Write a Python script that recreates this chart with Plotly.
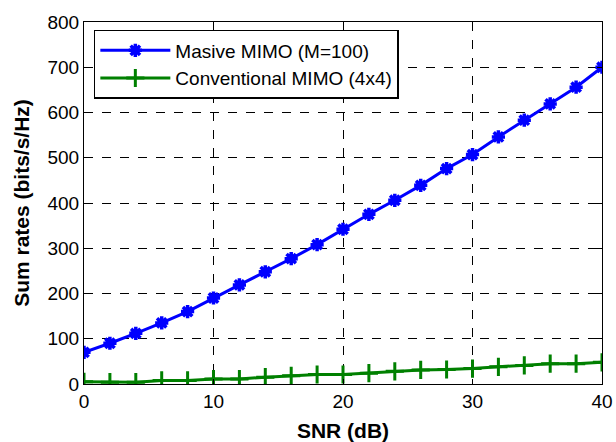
import plotly.graph_objects as go

snr = [0, 2, 4, 6, 8, 10, 12, 14, 16, 18, 20, 22, 24, 26, 28, 30, 32, 34, 36, 38, 40]
massive = [70, 90, 112, 135, 160, 190, 219, 248, 277, 308, 342, 375, 406, 439, 476, 507, 546, 583, 619, 656, 700]
conventional = [5, 4, 4, 8, 8, 11, 11, 15, 18, 21, 21, 24, 28, 31, 32, 34, 38, 41, 45, 45, 48]

FONT = "Liberation Sans, Arial"

fig = go.Figure()
fig.add_trace(go.Scatter(
    x=snr, y=massive, mode="lines+markers", name="Masive MIMO (M=100)",
    line=dict(color="#0000ff", width=3),
    marker=dict(symbol="asterisk-open", size=11, color="#0000ff",
                line=dict(color="#0000ff", width=3.5)),
))
fig.add_trace(go.Scatter(
    x=snr, y=conventional, mode="lines+markers", name="Conventional MIMO (4x4)",
    line=dict(color="#008000", width=3),
    marker=dict(symbol="cross-thin-open", size=13, color="#008000",
                line=dict(color="#008000", width=3)),
))

axis_common = dict(
    showline=True, linecolor="black", linewidth=1, mirror="ticks",
    ticks="inside", ticklen=5, tickcolor="black",
    showgrid=True, gridcolor="black", gridwidth=1, griddash="dash",
    zeroline=False,
    tickfont=dict(family=FONT, size=19, color="black"),
)

fig.update_xaxes(range=[0, 40], tickvals=[0, 10, 20, 30, 40], automargin=False,
                 title=dict(text="<b>SNR (dB)</b>",
                            font=dict(family=FONT, size=21, color="black")),
                 **axis_common)
fig.update_yaxes(range=[0, 800], tickvals=[0, 100, 200, 300, 400, 500, 600, 700, 800],
                 title=dict(text="<b>Sum rates (bits/s/Hz)</b>", standoff=12,
                            font=dict(family=FONT, size=21, color="black")),
                 **axis_common)

fig.update_layout(
    width=616, height=442,
    margin=dict(l=84, r=14, t=15, b=58),
    paper_bgcolor="white", plot_bgcolor="white",
    font=dict(family=FONT, color="black"),
    showlegend=True,
    legend=dict(
        x=0.019, y=0.978, xanchor="left", yanchor="top",
        bgcolor="white", bordercolor="black", borderwidth=1.5,
        font=dict(family=FONT, size=19, color="black"),
        itemwidth=70, tracegroupgap=0,
    ),
)

fig.write_html("out.html")
